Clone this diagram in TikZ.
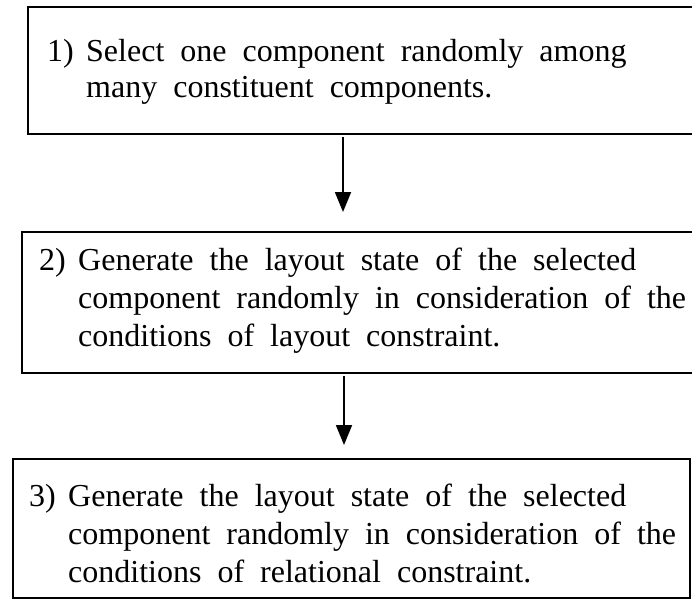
\documentclass[tikz,border=0pt]{standalone}
\usepackage{fontspec}
\setmainfont{Liberation Serif}
\usetikzlibrary{arrows.meta}
\begin{document}
\begin{tikzpicture}[x=1pt,y=-1pt,
  box/.style={draw,line width=1.8pt,anchor=north west,inner sep=0pt,minimum width=#1},
  txt/.style={anchor=base west,inner sep=0pt,font={\fontsize{32}{36}\selectfont\spaceskip=16pt\relax}},
  arr/.style={line width=1.8pt,-{Triangle[length=20pt,width=16pt]}}]
\useasboundingbox (0,0) rectangle (692,600);
\clip (0,0) rectangle (692,600);
% boxes
\node[box=673pt,minimum height=127pt] (b1) at (27,6) {};
\node[box=679pt,minimum height=141pt] (b2) at (21,231) {};
\node[box=677pt,minimum height=139pt] (b3) at (12,458) {};
% box 1 text
\node[txt] (n1) at (47,61) {1)};
\node[txt] (l11) at (86,61) {Select one component randomly among};
\node[txt] (l12) at (86,97) {many constituent components.};
% box 2 text
\node[txt] (n2) at (39,270) {2)};
\node[txt] (l21) at (78,270) {Generate the layout state of the selected};
\node[txt] (l22) at (78,308) {component randomly in consideration of the};
\node[txt] (l23) at (78,346) {conditions of layout constraint.};
% box 3 text
\node[txt] (n3) at (29,506) {3)};
\node[txt] (l31) at (68,506) {Generate the layout state of the selected};
\node[txt] (l32) at (68,544) {component randomly in consideration of the};
\node[txt] (l33) at (68,582) {conditions of relational constraint.};
% arrows
\coordinate (ax1) at (343,0);
\coordinate (ax2) at (344,0);
\draw[arr,shorten <=2pt,shorten >=19pt] (b1.south -| ax1) -- (b2.north -| ax1);
\draw[arr,shorten <=2pt,shorten >=13pt] (b2.south -| ax2) -- (b3.north -| ax2);
\end{tikzpicture}
\end{document}
